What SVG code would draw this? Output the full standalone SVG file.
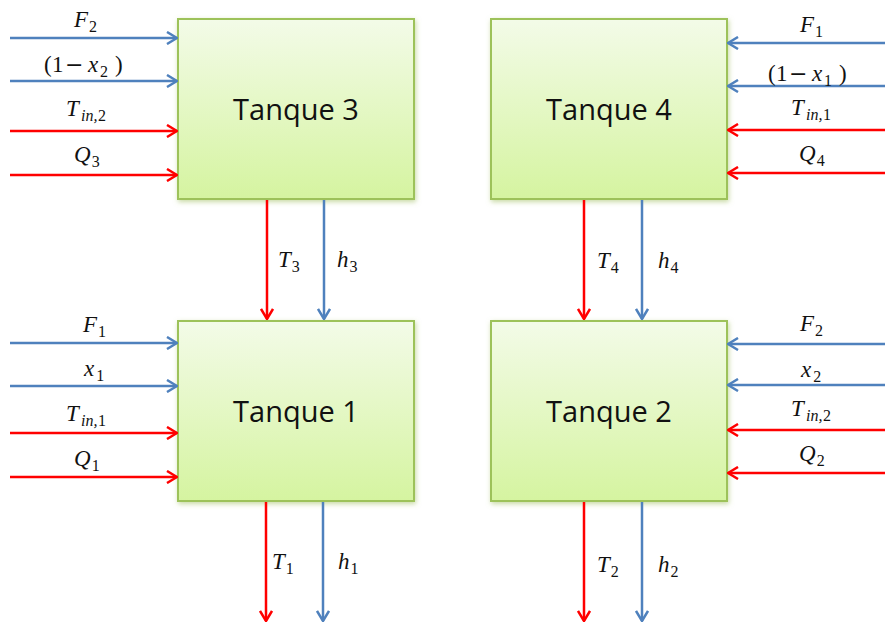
<svg xmlns="http://www.w3.org/2000/svg" width="885" height="623" viewBox="0 0 885 623">
  <defs>
    <linearGradient id="tankFill" x1="0" y1="0" x2="0" y2="1">
      <stop offset="0" stop-color="#f3fbe8"/>
      <stop offset="1" stop-color="#d5f4a0"/>
    </linearGradient>
    <filter id="glow" x="-10%" y="-10%" width="120%" height="120%">
      <feGaussianBlur in="SourceAlpha" stdDeviation="2.5"/>
      <feOffset dx="1" dy="1.5" result="b"/>
      <feFlood flood-color="#9bbb59" flood-opacity="0.55"/>
      <feComposite in2="b" operator="in"/>
      <feMerge>
        <feMergeNode/>
        <feMergeNode in="SourceGraphic"/>
      </feMerge>
    </filter>
    <marker id="headBlue" viewBox="0 0 12 14" refX="11" refY="7" markerWidth="12" markerHeight="14" markerUnits="userSpaceOnUse" orient="auto">
      <path d="M1,1 L11,7 L1,13" fill="none" stroke="#4f81bd" stroke-width="2.5"/>
    </marker>
    <marker id="headRed" viewBox="0 0 12 14" refX="11" refY="7" markerWidth="12" markerHeight="14" markerUnits="userSpaceOnUse" orient="auto">
      <path d="M1,1 L11,7 L1,13" fill="none" stroke="#ff0000" stroke-width="2.5"/>
    </marker>
  </defs>
  <style>
    .tank { fill: url(#tankFill); stroke: #9dc25a; stroke-width: 2; filter: url(#glow); }
    .title { font-family: "Open Sans", "Liberation Sans", sans-serif; font-size: 29px; fill: #111; text-anchor: middle; }
    .blue { stroke: #4f81bd; stroke-width: 2.5; fill: none; marker-end: url(#headBlue); }
    .red { stroke: #ff0000; stroke-width: 2.5; fill: none; marker-end: url(#headRed); }
    .m { font-family: "Liberation Serif", "DejaVu Serif", serif; font-size: 23px; fill: #111; }
    .i { font-style: italic; }
    .s { font-size: 16px; }
    .op { font-family: "DejaVu Sans", sans-serif; font-size: 22px; }
  </style>

  <rect width="885" height="623" fill="#ffffff"/>

  <!-- tanks -->
  <g id="tanque3">
    <rect class="tank" x="178" y="19" width="236" height="180"/>
    <text class="title" x="296" y="120">Tanque 3</text>
  </g>
  <g id="tanque4">
    <rect class="tank" x="491" y="19" width="236" height="180"/>
    <text class="title" x="609" y="120">Tanque 4</text>
  </g>
  <g id="tanque1">
    <rect class="tank" x="178" y="321" width="236" height="180"/>
    <text class="title" x="296" y="422">Tanque 1</text>
  </g>
  <g id="tanque2">
    <rect class="tank" x="491" y="321" width="236" height="180"/>
    <text class="title" x="609" y="422">Tanque 2</text>
  </g>

  <!-- connectors -->
  <g id="connectors">
    <!-- inputs to tank 3 -->
    <line class="blue" x1="10" y1="38" x2="177" y2="38"/>
    <line class="blue" x1="10" y1="81" x2="177" y2="81"/>
    <line class="red" x1="10" y1="131" x2="177" y2="131"/>
    <line class="red" x1="10" y1="175" x2="177" y2="175"/>
    <!-- inputs to tank 1 -->
    <line class="blue" x1="10" y1="343" x2="177" y2="343"/>
    <line class="blue" x1="10" y1="386" x2="177" y2="386"/>
    <line class="red" x1="10" y1="433" x2="177" y2="433"/>
    <line class="red" x1="10" y1="477" x2="177" y2="477"/>
    <!-- inputs to tank 4 -->
    <line class="blue" x1="885" y1="43" x2="728" y2="43"/>
    <line class="blue" x1="885" y1="86" x2="728" y2="86"/>
    <line class="red" x1="885" y1="130" x2="728" y2="130"/>
    <line class="red" x1="885" y1="173" x2="728" y2="173"/>
    <!-- inputs to tank 2 -->
    <line class="blue" x1="885" y1="344" x2="728" y2="344"/>
    <line class="blue" x1="885" y1="385" x2="728" y2="385"/>
    <line class="red" x1="885" y1="430" x2="728" y2="430"/>
    <line class="red" x1="885" y1="473" x2="728" y2="473"/>
    <!-- tank 3 to tank 1 -->
    <line class="red" x1="267" y1="200" x2="267" y2="319"/>
    <line class="blue" x1="324" y1="200" x2="324" y2="319"/>
    <!-- tank 4 to tank 2 -->
    <line class="red" x1="584" y1="200" x2="584" y2="319"/>
    <line class="blue" x1="642" y1="200" x2="642" y2="319"/>
    <!-- outputs of tanks 1 and 2 -->
    <line class="red" x1="266" y1="502" x2="266" y2="621"/>
    <line class="blue" x1="323" y1="502" x2="323" y2="621"/>
    <line class="red" x1="584" y1="502" x2="584" y2="621"/>
    <line class="blue" x1="642" y1="502" x2="642" y2="621"/>
  </g>

  <!-- labels -->
  <g id="labels">
    <!-- tank 3 inputs -->
    <text class="m" x="74" y="27"><tspan class="i">F</tspan><tspan class="s" dx="1" dy="5">2</tspan></text>
    <text class="m" y="72"><tspan x="44">(</tspan><tspan x="52">1</tspan><tspan class="op" x="65">−</tspan><tspan class="i" x="88">x</tspan><tspan class="s" x="100" dy="5">2</tspan><tspan x="115" dy="-5">)</tspan></text>
    <text class="m" y="116"><tspan class="i" x="66">T</tspan><tspan class="s i" x="81" dy="5">in,</tspan><tspan class="s" x="98">2</tspan></text>
    <text class="m" x="74" y="162"><tspan class="i">Q</tspan><tspan class="s" dx="1" dy="5">3</tspan></text>
    <!-- tank 1 inputs -->
    <text class="m" x="83" y="332"><tspan class="i">F</tspan><tspan class="s" dx="1" dy="5">1</tspan></text>
    <text class="m" x="84" y="376"><tspan class="i">x</tspan><tspan class="s" dx="2" dy="5">1</tspan></text>
    <text class="m" y="421"><tspan class="i" x="66">T</tspan><tspan class="s i" x="81" dy="5">in,</tspan><tspan class="s" x="98">1</tspan></text>
    <text class="m" x="74" y="466"><tspan class="i">Q</tspan><tspan class="s" dx="1" dy="5">1</tspan></text>
    <!-- tank 4 inputs -->
    <text class="m" x="800" y="32"><tspan class="i">F</tspan><tspan class="s" dx="1" dy="5">1</tspan></text>
    <text class="m" y="81"><tspan x="768">(</tspan><tspan x="776">1</tspan><tspan class="op" x="789">−</tspan><tspan class="i" x="812">x</tspan><tspan class="s" x="824" dy="5">1</tspan><tspan x="839" dy="-5">)</tspan></text>
    <text class="m" y="115"><tspan class="i" x="791">T</tspan><tspan class="s i" x="806" dy="5">in,</tspan><tspan class="s" x="823">1</tspan></text>
    <text class="m" x="799" y="161"><tspan class="i">Q</tspan><tspan class="s" dx="1" dy="5">4</tspan></text>
    <!-- tank 2 inputs -->
    <text class="m" x="800" y="331"><tspan class="i">F</tspan><tspan class="s" dx="1" dy="5">2</tspan></text>
    <text class="m" x="801" y="377"><tspan class="i">x</tspan><tspan class="s" dx="2" dy="5">2</tspan></text>
    <text class="m" y="416"><tspan class="i" x="791">T</tspan><tspan class="s i" x="806" dy="5">in,</tspan><tspan class="s" x="823">2</tspan></text>
    <text class="m" x="799" y="461"><tspan class="i">Q</tspan><tspan class="s" dx="1" dy="5">2</tspan></text>
    <!-- vertical flows -->
    <text class="m" x="278" y="267"><tspan class="i">T</tspan><tspan class="s" dx="1" dy="5">3</tspan></text>
    <text class="m" x="337" y="267"><tspan class="i">h</tspan><tspan class="s" dx="1" dy="5">3</tspan></text>
    <text class="m" x="597" y="268"><tspan class="i">T</tspan><tspan class="s" dx="1" dy="5">4</tspan></text>
    <text class="m" x="658" y="268"><tspan class="i">h</tspan><tspan class="s" dx="1" dy="5">4</tspan></text>
    <text class="m" x="272" y="569"><tspan class="i">T</tspan><tspan class="s" dx="1" dy="5">1</tspan></text>
    <text class="m" x="338" y="569"><tspan class="i">h</tspan><tspan class="s" dx="1" dy="5">1</tspan></text>
    <text class="m" x="597" y="572"><tspan class="i">T</tspan><tspan class="s" dx="1" dy="5">2</tspan></text>
    <text class="m" x="658" y="572"><tspan class="i">h</tspan><tspan class="s" dx="1" dy="5">2</tspan></text>
  </g>
</svg>
